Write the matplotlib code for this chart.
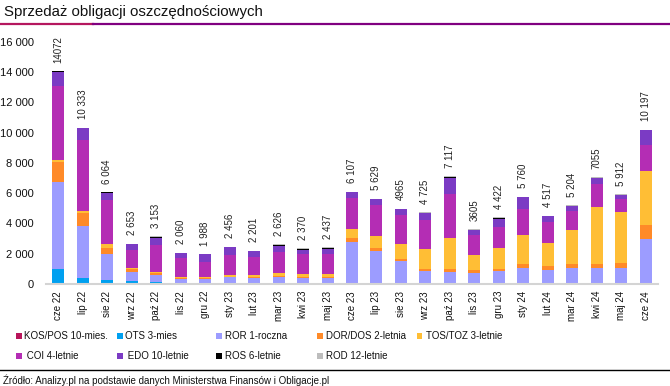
import matplotlib
matplotlib.use("Agg")
import matplotlib.pyplot as plt
from matplotlib.patches import Rectangle
from matplotlib.lines import Line2D
from matplotlib import font_manager
import numpy as np

plt.rcParams['font.family'] = ['Liberation Sans', 'DejaVu Sans']

months = ["cze 22", "lip 22", "sie 22", "wrz 22", "paź 22", "lis 22", "gru 22",
          "sty 23", "lut 23", "mar 23", "kwi 23", "maj 23", "cze 23", "lip 23",
          "sie 23", "wrz 23", "paź 23", "lis 23", "gru 23", "sty 24", "lut 24",
          "mar 24", "kwi 24", "maj 24", "cze 24"]

kos = [0] * 25
ots = [990, 396, 264, 200, 100, 20, 0, 50, 0, 0, 0, 0, 0, 0, 0, 0, 0, 0, 0,
       40, 30, 40, 40, 40, 40]
ror = [5742, 3454, 1738, 600, 480, 300, 310, 380, 410, 450, 410, 410, 2794, 2160,
       1510, 850, 810, 720, 850, 1030, 900, 1030, 1030, 1030, 2930]
dor = [1320, 858, 374, 170, 150, 100, 110, 20, 30, 70, 20, 30, 264, 200,
       130, 140, 180, 200, 140, 260, 250, 270, 270, 340, 950]
tos = [132, 110, 286, 80, 60, 20, 30, 140, 150, 190, 230, 230, 572, 810,
       1000, 1320, 2040, 990, 1380, 1910, 1530, 2240, 3760, 3360, 3540]
coi = [4884, 4686, 2882, 1210, 1790, 1250, 1030, 1320, 1190, 1400, 1300, 1340, 2070, 2020,
       1900, 1900, 2900, 1320, 1390, 1700, 1390, 1230, 1500, 860, 1720]
edo = [924, 792, 484, 360, 450, 340, 478, 516, 390, 390, 310, 320, 376, 400,
       390, 450, 1070, 330, 560, 780, 380, 350, 380, 260, 980]
ros = [48, 0, 22, 0, 80, 0, 0, 0, 0, 90, 70, 70, 0, 0,
       0, 30, 80, 0, 70, 0, 0, 0, 50, 0, 0]
rod = [32, 37, 14, 33, 43, 30, 30, 30, 31, 36, 30, 37, 31, 39,
       35, 35, 37, 45, 32, 40, 37, 44, 25, 22, 37]
total_labels = ["14072", "10 333", "6 064", "2 653", "3 153", "2 060", "1 988",
                "2 456", "2 201", "2 626", "2 370", "2 437", "6 107", "5 629",
                "4965", "4 725", "7 117", "3605", "4 422", "5 760", "4 517",
                "5 204", "7055", "5 912", "10 197"]

series = [
    ("KOS/POS 10-mies.", kos, "#B8145A"),
    ("OTS 3-mies", ots, "#00A0F0"),
    ("ROR 1-roczna", ror, "#9C9CFF"),
    ("DOR/DOS 2-letnia", dor, "#FF8A28"),
    ("TOS/TOZ 3-letnie", tos, "#FFBE35"),
    ("COI 4-letnie", coi, "#B42DB4"),
    ("EDO 10-letnie", edo, "#7B3BC4"),
    ("ROS 6-letnie", ros, "#000000"),
    ("ROD 12-letnie", rod, "#BDBDBD"),
]

installed = {f.name for f in font_manager.fontManager.ttflist}
narrow = "Liberation Sans Narrow" in installed
leg_family = ["Liberation Sans Narrow", "Liberation Sans"] if narrow else ["Liberation Sans"]
leg_size = 8 if narrow else 7

W, H = 670, 386
fig = plt.figure(figsize=(W / 100, H / 100), dpi=100)
ax = fig.add_axes([46 / W, (H - 284) / H, (658 - 46) / W, (284 - 41.7) / H])

x = np.arange(len(months))
bottom = np.zeros(len(months))
for name, vals, col in series:
    v = np.array(vals, dtype=float)
    ax.bar(x, v, 0.49, bottom=bottom, color=col, linewidth=0, zorder=2)
    bottom += v

for xi, tot, lab in zip(x, bottom, total_labels):
    ax.annotate(lab, (xi, tot), xytext=(0, 6), textcoords="offset points",
                rotation=90, ha="center", va="bottom", fontsize=7,
                color="#222222", annotation_clip=False)

ax.set_xlim(-0.5, len(months) - 0.5)
ax.set_ylim(0, 16000)
ax.set_yticks(np.arange(0, 16001, 2000))
ax.set_yticklabels([f"{int(t):,}".replace(",", " ") for t in np.arange(0, 16001, 2000)],
                   fontsize=8, color="#111111")
ax.set_xticks(x)
ax.set_xticklabels(months, rotation=90, fontsize=7, color="#111111")
ax.tick_params(axis="both", length=0)
ax.tick_params(axis="x", pad=5)
ax.tick_params(axis="y", pad=9)
for s in ax.spines.values():
    s.set_visible(False)
ax.axhline(0, color="#d4d4d4", lw=1.5, zorder=3, clip_on=False)

# title
fig.text(4 / W, 1 - 12 / H, "Sprzedaż obligacji oszczędnościowych", fontsize=10.8,
         ha="left", va="center", color="#111111")
fig.add_artist(Line2D([0, 93 / W], [1 - 24 / H] * 2, color="#B5175E", lw=1.6))
fig.add_artist(Line2D([93 / W, 1], [1 - 24 / H] * 2, color="#800080", lw=1.6))

# legend
marker_x = [16, 117, 216, 317, 417]
text_x = [24, 125, 225, 326, 426]
rows_y = [336, 356]
for i, (name, vals, col) in enumerate(series):
    r, c = divmod(i, 5)
    y = rows_y[r]
    fig.add_artist(Rectangle((marker_x[c] / W, 1 - (y + 3) / H), 5.5 / W, 6 / H,
                             transform=fig.transFigure, color=col, lw=0))
    label = (" " + name) if r == 1 and c < 2 else name
    fig.text(text_x[c] / W, 1 - y / H, label, fontsize=leg_size, ha="left",
             va="center", color="#111111", family=leg_family)

# source
fig.add_artist(Line2D([0, 1], [1 - 370 / H] * 2, color="#000000", lw=1.0))
fig.text(3 / W, 1 - 380 / H,
         "Źródło: Analizy.pl na podstawie danych Ministerstwa Finansów i Obligacje.pl",
         fontsize=7, ha="left", va="center", color="#111111")

fig.savefig("out.png", dpi=100)
